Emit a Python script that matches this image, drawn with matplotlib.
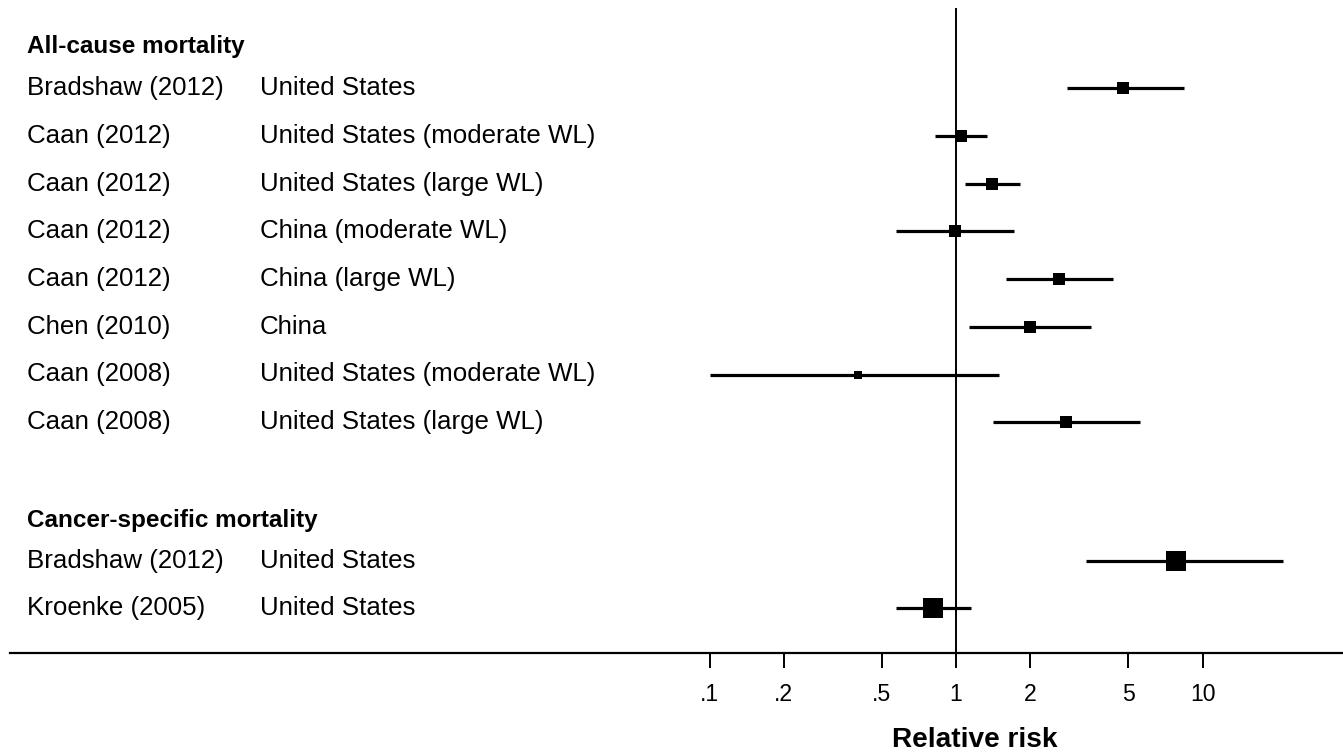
import numpy as np
import matplotlib
matplotlib.use("Agg")
import matplotlib.pyplot as plt
import matplotlib.transforms as mtransforms

plt.rcParams["font.family"] = ["Liberation Sans", "DejaVu Sans"]

# ---- data ----
groups = ["All-cause mortality", "Cancer-specific mortality"]

studies_all = ["Bradshaw (2012)", "Caan (2012)", "Caan (2012)", "Caan (2012)",
               "Caan (2012)", "Chen (2010)", "Caan (2008)", "Caan (2008)"]
pops_all = ["United States", "United States (moderate WL)", "United States (large WL)",
            "China (moderate WL)", "China (large WL)", "China",
            "United States (moderate WL)", "United States (large WL)"]
rr_all = [4.75, 1.05, 1.40, 0.99, 2.61, 2.00, 0.40, 2.79]
lo_all = [2.81, 0.82, 1.09, 0.57, 1.59, 1.13, 0.10, 1.41]
hi_all = [8.42, 1.33, 1.81, 1.72, 4.35, 3.52, 1.50, 5.59]
wt_all = [1.0, 1.05, 1.1, 1.0, 1.0, 1.0, 0.7, 1.0]

studies_can = ["Bradshaw (2012)", "Kroenke (2005)"]
pops_can = ["United States", "United States"]
rr_can = [7.82, 0.81]
lo_can = [3.37, 0.57]
hi_can = [21.2, 1.15]
wt_can = [1.8, 1.8]

tick_vals = [0.1, 0.2, 0.5, 1, 2, 5, 10]
tick_labels = [".1", ".2", ".5", "1", "2", "5", "10"]

# ---- figure ----
W, H, DPI = 1343, 753, 100
fig = plt.figure(figsize=(W / DPI, H / DPI), dpi=DPI)
ax = fig.add_axes([10 / W, (H - 653) / H, (W - 10) / W, 653 / H])

# row layout (row units: one row = 47.75 px, row 0 at y=88 px)
step, y0 = 47.75, 88.0
def px2row(py):
    return (py - y0) / step

y_all = np.arange(len(rr_all), dtype=float)
y_can = len(rr_all) + 1.9 + np.arange(len(rr_can), dtype=float)
y_head = [px2row(46), px2row(521)]

ax.set_xscale("log")
x_left = 10 ** ((10 - 956) / 246.5)
x_right = 10 ** ((W - 956) / 246.5)
ax.set_xlim(x_left, x_right)
ax.set_ylim(px2row(653), px2row(0))

# null line
ax.vlines(1, px2row(653), px2row(8), color="black", lw=1.4, zorder=1)

def draw(y, rr, lo, hi, wt):
    for yi, r, l, h, w in zip(y, rr, lo, hi, wt):
        ax.hlines(yi, l, h, color="black", lw=2.3, zorder=2)
        ax.plot(r, yi, marker="s", color="black", markersize=8.2 * w,
                markeredgewidth=0, zorder=3)

draw(y_all, rr_all, lo_all, hi_all, wt_all)
draw(y_can, rr_can, lo_can, hi_can, wt_can)

# text columns
tr = mtransforms.blended_transform_factory(fig.transFigure, ax.transData)
xc1, xc2 = 27 / W, 260 / W
for g, yh in zip(groups, y_head):
    ax.text(xc1, yh, g, transform=tr, fontsize=17.5, fontweight="bold",
            va="center", ha="left")
for ys, st, po in [(y_all, studies_all, pops_all), (y_can, studies_can, pops_can)]:
    for yi, s, p in zip(ys, st, po):
        ax.text(xc1, yi, s, transform=tr, fontsize=18.6, va="center", ha="left")
        ax.text(xc2, yi, p, transform=tr, fontsize=18.6, va="center", ha="left")

# axes styling
for side in ["top", "right", "left"]:
    ax.spines[side].set_visible(False)
ax.spines["bottom"].set_linewidth(1.6)
ax.set_yticks([])
ax.set_xticks(tick_vals)
ax.set_xticklabels(tick_labels)
ax.minorticks_off()
ax.tick_params(axis="x", length=10.8, width=1.4, pad=11, labelsize=16.6)

fig.text(975 / W, 1 - 740 / H, "Relative risk", fontsize=20.2, fontweight="bold",
         ha="center", va="center")

fig.savefig("out.png", dpi=DPI)
